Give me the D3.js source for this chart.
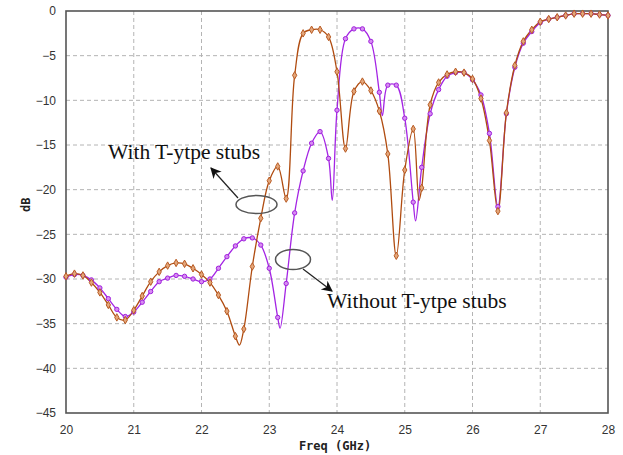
<!DOCTYPE html>
<html>
<head>
<meta charset="utf-8">
<script src="https://cdn.jsdelivr.net/npm/d3@7"></script>
<style>
  body { margin: 0; background: #fff; }
</style>
</head>
<body>
<svg id="chart" width="623" height="455"></svg>
<script>
// Frequency grid of the sweep markers (GHz), step 0.125
const freqs = d3.range(65).map((i) => 20 + i * 0.125);

// S-parameter (dB) at each marker
const withStubs = [
  -29.7, -29.4, -29.6, -30.4, -31.5, -32.9, -34.3, -34.6,
  -33.5, -31.9, -30.3, -29.2, -28.5, -28.2, -28.3, -28.8,
  -29.5, -30.4, -31.8, -33.6, -36.4, -35.6, -28.6, -23.2,
  -19.0, -17.4, -21.0, -7.2, -2.5, -2.1, -2.1, -2.9,
  -6.8, -15.4, -9.0, -7.9, -8.9, -11.2, -16.0, -27.4,
  -17.8, -13.2, -19.8, -10.5, -8.0, -7.1, -6.8, -6.9,
  -7.6, -9.8, -14.5, -22.4, -11.4, -6.1, -3.4, -2.1,
  -1.2, -0.9, -0.7, -0.5, -0.3, -0.3, -0.3, -0.4, -0.5,
];
const withoutStubs = [
  -29.8, -29.5, -29.6, -30.1, -31.0, -32.2, -33.4, -34.2,
  -33.7, -32.6, -31.4, -30.3, -29.9, -29.6, -29.7, -30.0,
  -30.3, -30.0, -28.8, -27.5, -26.3, -25.5, -25.4, -26.2,
  -28.8, -34.3, -30.5, -22.6, -17.9, -14.8, -13.5, -16.5,
  -11.1, -3.1, -2.0, -2.0, -3.4, -9.1, -8.3, -8.3,
  -12.0, -21.4, -17.5, -11.5, -8.8, -7.3, -6.9, -6.9,
  -7.7, -9.4, -13.7, -21.9, -11.5, -6.3, -3.6, -2.3,
  -1.3, -0.9, -0.7, -0.5, -0.3, -0.3, -0.3, -0.4, -0.5,
];
// sharp resonance dips that fall between markers: [GHz, dB]
const withStubsDips = [[22.56, -37.4], [25.21, -21.2]];
const withoutStubsDips = [[23.16, -35.5], [23.93, -21.2], [24.67, -11.7], [25.16, -23.5]];

const xTicks = [20, 21, 22, 23, 24, 25, 26, 27, 28];
const yTicks = [0, -5, -10, -15, -20, -25, -30, -35, -40, -45];

const svg = d3.select("#chart");
const x = d3.scaleLinear().domain([20, 28]).range([66, 608]);
const y = d3.scaleLinear().domain([-45, 0]).range([413, 11]);

// grid
svg.append("g")
  .selectAll("line")
  .data(xTicks.slice(1, -1))
  .enter()
  .append("line")
  .attr("x1", (d) => x(d)).attr("x2", (d) => x(d))
  .attr("y1", y(0)).attr("y2", y(-45))
  .attr("stroke", "#b4b4b4")
  .attr("stroke-dasharray", "4,3");
svg.append("g")
  .selectAll("line")
  .data(yTicks.slice(1, -1))
  .enter()
  .append("line")
  .attr("x1", x(20)).attr("x2", x(28))
  .attr("y1", (d) => y(d)).attr("y2", (d) => y(d))
  .attr("stroke", "#b4b4b4")
  .attr("stroke-dasharray", "4,3");

// axes (labels only, frame drawn separately)
const xAxis = svg.append("g")
  .attr("transform", `translate(0,${y(-45)})`)
  .call(d3.axisBottom(x).tickValues(xTicks).tickSize(0).tickPadding(12).tickFormat(d3.format("d")));
const yAxis = svg.append("g")
  .attr("transform", `translate(${x(20)},0)`)
  .call(d3.axisLeft(y).tickValues(yTicks).tickSize(0).tickPadding(10).tickFormat(d3.format("d")));
[xAxis, yAxis].forEach((a) => {
  a.select(".domain").remove();
  a.selectAll("text")
    .attr("font-family", "'Liberation Sans', Arial, sans-serif")
    .attr("font-size", 12)
    .attr("fill", "#333");
});

// frame
svg.append("rect")
  .attr("x", x(20)).attr("y", y(0))
  .attr("width", x(28) - x(20)).attr("height", y(-45) - y(0))
  .attr("fill", "none")
  .attr("stroke", "#555")
  .attr("stroke-width", 1.6);

// axis titles
svg.append("text")
  .attr("x", x(24.0) - 2).attr("y", 450)
  .attr("text-anchor", "middle")
  .attr("font-family", "'DejaVu Sans Mono', monospace")
  .attr("font-weight", "bold")
  .attr("font-size", 12)
  .attr("fill", "#222")
  .text("Freq (GHz)");
svg.append("text")
  .attr("transform", `translate(30,${y(-21.7)}) rotate(-90)`)
  .attr("text-anchor", "middle")
  .attr("font-family", "'DejaVu Sans Mono', monospace")
  .attr("font-weight", "bold")
  .attr("font-size", 12)
  .attr("fill", "#222")
  .text("dB");

// curves
function buildPoints(values, dips) {
  const pts = freqs.map((f, i) => ({ f: f, v: values[i], mark: true }));
  dips.forEach((d) => pts.push({ f: d[0], v: d[1], mark: false }));
  return pts.sort((a, b) => a.f - b.f);
}

const series = [
  { name: "without", pts: buildPoints(withoutStubs, withoutStubsDips), line: "#a424e4", stroke: "#a020dc", fill: "#d68cf2", shape: "circle" },
  { name: "with", pts: buildPoints(withStubs, withStubsDips), line: "#b04c10", stroke: "#b85a22", fill: "#e3a67a", shape: "diamond" },
];

const line = d3.line()
  .x((d) => x(d.f))
  .y((d) => y(d.v))
  .curve(d3.curveCatmullRom.alpha(0.5));

series.forEach((s) => {
  svg.append("path")
    .datum(s.pts)
    .attr("fill", "none")
    .attr("stroke", s.line)
    .attr("stroke-width", 1.3)
    .attr("d", line);
});

series.forEach((s) => {
  const sym = d3.symbol()
    .type(s.shape === "circle" ? d3.symbolCircle : d3.symbolDiamond)
    .size(s.shape === "circle" ? 15 : 16);
  svg.append("g")
    .selectAll("path")
    .data(s.pts.filter((d) => d.mark))
    .enter()
    .append("path")
    .attr("transform", (d) => `translate(${x(d.f)},${y(d.v)})`)
    .attr("d", sym)
    .attr("fill", s.fill)
    .attr("stroke", s.stroke)
    .attr("stroke-width", 1);
});

// annotations
const defs = svg.append("defs");
defs.append("marker")
  .attr("id", "head")
  .attr("viewBox", "0 0 10 10")
  .attr("refX", 9).attr("refY", 5)
  .attr("markerWidth", 15).attr("markerHeight", 11)
  .attr("markerUnits", "userSpaceOnUse")
  .attr("orient", "auto")
  .append("path")
  .attr("d", "M0,0 L10,5 L0,10 L3,5 Z")
  .attr("fill", "#111");

const notes = [
  { text: "With T-ytpe stubs", tx: 108, ty: 159, ex: 256.5, ey: 204.5, rx: 20.5, ry: 9, ax1: 238, ay1: 198, ax2: 211, ay2: 168 },
  { text: "Without T-ytpe stubs", tx: 327, ty: 308, ex: 293, ey: 259.5, rx: 17.5, ry: 10, ax1: 303, ay1: 269, ax2: 332, ay2: 291 },
];
notes.forEach((n) => {
  svg.append("ellipse")
    .attr("cx", n.ex).attr("cy", n.ey)
    .attr("rx", n.rx).attr("ry", n.ry)
    .attr("fill", "none")
    .attr("stroke", "#555")
    .attr("stroke-width", 1.5);
  svg.append("line")
    .attr("x1", n.ax1).attr("y1", n.ay1)
    .attr("x2", n.ax2).attr("y2", n.ay2)
    .attr("stroke", "#222")
    .attr("stroke-width", 1.2)
    .attr("marker-end", "url(#head)");
  svg.append("text")
    .attr("x", n.tx).attr("y", n.ty)
    .attr("font-family", "'Liberation Serif', 'Times New Roman', serif")
    .attr("font-size", 21.5)
    .attr("fill", "#111")
    .text(n.text);
});
</script>
</body>
</html>
